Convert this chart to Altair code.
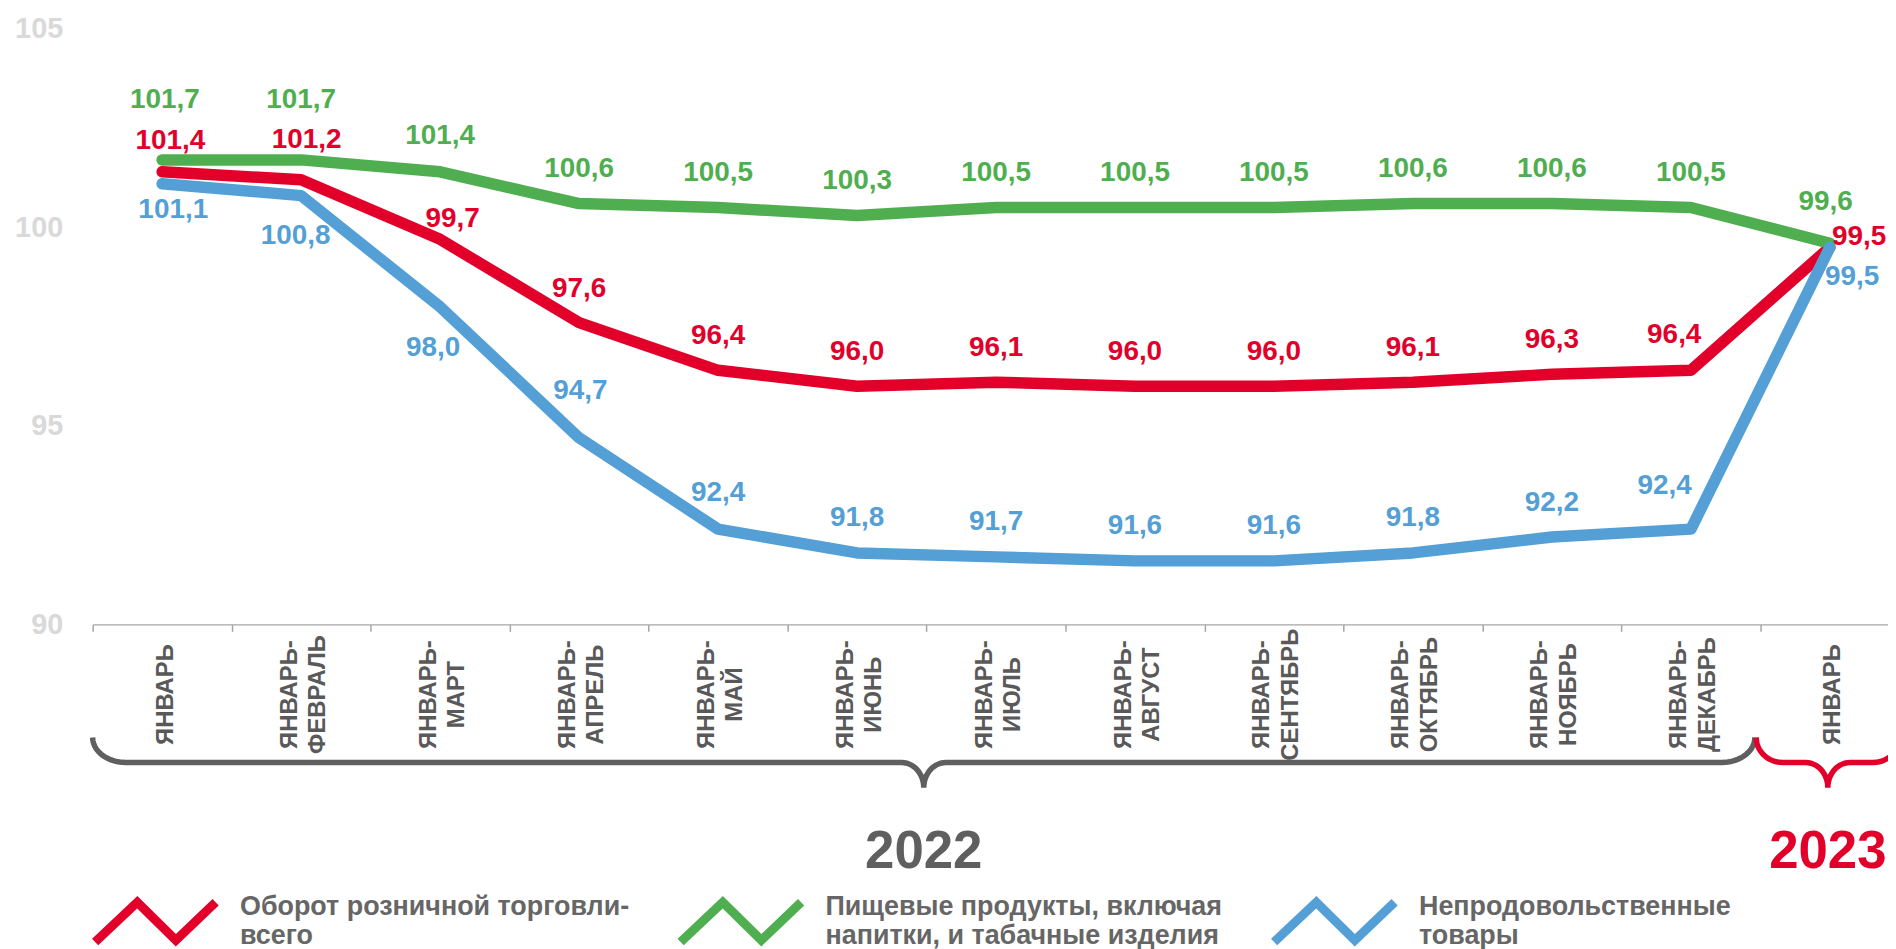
import json
import numpy as np
import pandas as pd
import altair as alt

# ---------------- data ----------------
categories = ["ЯНВАРЬ", "ЯНВАРЬ-\nФЕВРАЛЬ", "ЯНВАРЬ-\nМАРТ", "ЯНВАРЬ-\nАПРЕЛЬ",
              "ЯНВАРЬ-\nМАЙ", "ЯНВАРЬ-\nИЮНЬ", "ЯНВАРЬ-\nИЮЛЬ", "ЯНВАРЬ-\nАВГУСТ",
              "ЯНВАРЬ-\nСЕНТЯБРЬ", "ЯНВАРЬ-\nОКТЯБРЬ", "ЯНВАРЬ-\nНОЯБРЬ",
              "ЯНВАРЬ-\nДЕКАБРЬ", "ЯНВАРЬ"]
series_names = ["Оборот розничной торговли-\nвсего",
                "Пищевые продукты, включая\nнапитки, и табачные изделия",
                "Непродовольственные\nтовары"]
retail = [101.4, 101.2, 99.7, 97.6, 96.4, 96.0, 96.1, 96.0, 96.0, 96.1, 96.3, 96.4, 99.5]
food = [101.7, 101.7, 101.4, 100.6, 100.5, 100.3, 100.5, 100.5, 100.5, 100.6, 100.6, 100.5, 99.6]
nonfood = [101.1, 100.8, 98.0, 94.7, 92.4, 91.8, 91.7, 91.6, 91.6, 91.8, 92.2, 92.4, 99.5]
y_ticks = [90, 95, 100, 105]
years = ["2022", "2023"]
year_first = [0, 12]   # first category index of each year
year_last = [11, 12]   # last category index of each year

# ---------------- styling / placement ----------------
colors = ["#E2002B", "#4FAE4F", "#539FD6"]
year_colors = ["#5F5F5F", "#E2002B"]
FONT = "Liberation Sans"

# label offsets (x in category units, y in value units)
lab_dx = [
    [0.06, 0.04, 0.09, 0, 0, 0, 0, 0, 0, 0, 0, -0.12, 0.21],
    [0.02, 0, 0, 0, 0, 0, 0, 0, 0, 0, 0, 0, -0.03],
    [0.08, -0.04, -0.05, 0.01, 0, 0, 0, 0, 0, 0, 0, -0.19, 0.16],
]
lab_dy = [
    [0.78, 1.0, 0.5, 0.85, 0.87, 0.87, 0.87, 0.87, 0.87, 0.87, 0.87, 0.88, 0.25],
    [1.5, 1.5, 0.9, 0.88, 0.88, 0.88, 0.88, 0.88, 0.88, 0.88, 0.88, 0.88, 1.05],
    [-0.65, -1.03, -1.03, 1.17, 0.9, 0.88, 0.88, 0.88, 0.88, 0.88, 0.85, 1.08, -0.75],
]

rows = []
for s, vals, dxs, dys in zip(series_names, [retail, food, nonfood], lab_dx, lab_dy):
    for i, v in enumerate(vals):
        rows.append(dict(series=s, idx=i, value=v,
                         label=f"{v:.1f}".replace(".", ","),
                         lx=i + dxs[i], ly=v + dys[i]))
df = pd.DataFrame(rows)

x_scale = alt.Scale(domain=[-0.5, 12.418], nice=False, zero=False)
y_scale = alt.Scale(domain=[90, 105], nice=False, zero=False)

tick_vals = [v / 2 for v in range(-1, 25)]
label_expr = ("datum.value % 1 === 0 ? split(" + json.dumps(categories, ensure_ascii=False)
              + "[datum.value], '\\n') : ''")
single_line = [i for i, c in enumerate(categories) if "\n" not in c]
single_test = " || ".join(f"datum.value === {i}" for i in single_line)

x_axis = alt.Axis(values=tick_vals, labelExpr=label_expr, labelAngle=-90,
                  labelAlign="center", labelBaseline="middle", labelFontSize=24,
                  labelFont=FONT, labelFontWeight="bold", labelColor="#595959",
                  labelLineHeight=28.5, labelPadding=63, tickSize=7,
                  labelOffset={"condition": {"test": single_test, "value": 3}, "value": -12},
                  tickColor="#A6A6A6", tickWidth=1.5, domainColor="#A6A6A6",
                  domainWidth=1.5, grid=False, title=None, labelOverlap=False,
                  labelBound=False, labelFlush=False,
                  tickOpacity={"condition": {"test": "datum.value % 1 === 0", "value": 0},
                               "value": 1})
y_axis = alt.Axis(values=y_ticks, labelFontSize=29, labelFont=FONT,
                  labelFontWeight="bold", labelColor="#D9D9D9", domain=False,
                  ticks=False, tickSize=0, grid=False, title=None, labelPadding=30)

zigzag = "M-1,0.33L-0.3,-0.33L0.34,0.3L1,-0.33"
legend = alt.Legend(orient="none", legendX=-2, legendY=832, direction="horizontal",
                    columns=3, symbolType=zigzag, symbolSize=14641,
                    symbolStrokeWidth=9, symbolFillColor="transparent",
                    labelFontSize=27, labelFont=FONT, labelFontWeight="bold",
                    labelColor="#666666", labelLimit=1000, labelOffset=20,
                    labelBaseline="line-bottom",
                    labelExpr="split(datum.label, '\\n')", columnPadding=33,
                    title=None, padding=0)

color_scale = alt.Scale(domain=series_names, range=colors)

lines = alt.Chart(df).mark_line(strokeWidth=11.5, strokeCap="round", strokeJoin="round").encode(
    x=alt.X("idx:Q", scale=x_scale, axis=x_axis),
    y=alt.Y("value:Q", scale=y_scale, axis=y_axis),
    color=alt.Color("series:N", scale=color_scale, legend=legend, sort=series_names),
)

labels = alt.Chart(df).mark_text(fontSize=28, font=FONT, fontWeight="bold",
                                 align="center", baseline="middle").encode(
    x=alt.X("lx:Q", scale=x_scale),
    y=alt.Y("ly:Q", scale=y_scale),
    text="label:N",
    color=alt.Color("series:N", scale=color_scale, legend=None),
)


# ---------------- braces under the axis (in data units) ----------------
def brace(x0, x1, r_end, r_mid, y_top=87.15, y_mid=86.52, y_tip=85.89, n=14):
    xc = (x0 + x1) / 2
    th = np.linspace(0, np.pi / 2, n)
    pts = []
    for t in th:
        pts.append((x0 + r_end * (1 - np.cos(t)), y_top + (y_mid - y_top) * np.sin(t)))
    for t in th:
        pts.append((xc - r_mid + r_mid * np.sin(t), y_mid + (y_tip - y_mid) * (1 - np.cos(t))))
    for t in th[::-1]:
        pts.append((xc + r_mid - r_mid * np.sin(t), y_mid + (y_tip - y_mid) * (1 - np.cos(t))))
    for t in th[::-1]:
        pts.append((x1 - r_end * (1 - np.cos(t)), y_top + (y_mid - y_top) * np.sin(t)))
    return pd.DataFrame({"bx": [p[0] for p in pts], "by": [p[1] for p in pts],
                         "o": list(range(len(pts)))})


brace_layers = []
year_layers = []
spans = [(year_first[0] - 0.5, year_last[0] + 0.46, 0.24, 0.16),
         (year_first[1] - 0.53, year_last[1] + 0.5, 0.19, 0.16)]
year_label_shift = [0.0, 0.0]
for yname, (a, b, re, rm), col, sh in zip(years, spans, year_colors, year_label_shift):
    bdf = brace(a, b, re, rm)
    brace_layers.append(
        alt.Chart(bdf).mark_line(strokeWidth=5.5, color=col, strokeCap="butt").encode(
            x=alt.X("bx:Q", scale=x_scale), y=alt.Y("by:Q", scale=y_scale), order="o:Q"))
    ydf = pd.DataFrame({"yx": [(a + b) / 2 + sh], "yy": [84.26], "t": [yname]})
    year_layers.append(
        alt.Chart(ydf).mark_text(fontSize=53, font=FONT, fontWeight="bold", color=col,
                                 align="center", baseline="middle").encode(
            x=alt.X("yx:Q", scale=x_scale), y=alt.Y("yy:Q", scale=y_scale), text="t:N"))

chart = alt.layer(lines, labels, *brace_layers, *year_layers).resolve_scale(
    color="independent"
).properties(
    width=1803, height=598,
    autosize=alt.AutoSizeParams(type="none"),
    padding={"left": 85, "top": 19, "right": 0, "bottom": 324},
    background="white",
).configure_view(stroke=None)

chart.save("out.html", embed_options={"renderer": "svg", "actions": False})
